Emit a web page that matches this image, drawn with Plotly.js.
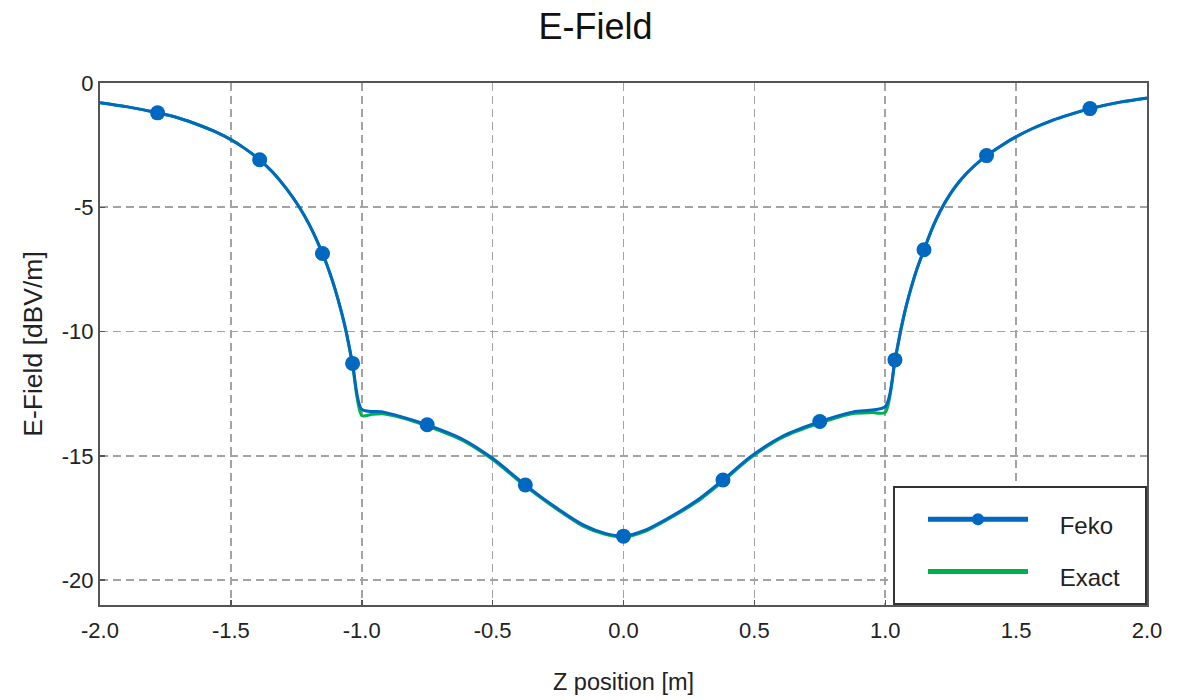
<!DOCTYPE html>
<html>
<head>
<meta charset="utf-8">
<script src="https://cdn.plot.ly/plotly-3.0.1.min.js"></script>
<style>html,body{margin:0;padding:0;background:#fff}#chart{width:1177px;height:700px}</style>
</head>
<body>
<div id="chart"></div>
<script>
// Feko result (dense curve)
const fekoZ = [-2.0,-1.9,-1.78,-1.7,-1.62,-1.56,-1.5,-1.45,-1.39,-1.34,-1.29,-1.24,-1.2,-1.15,-1.12,-1.1,-1.08,-1.06,-1.035,-1.0,
  -0.92,-0.85,-0.75,-0.62,-0.5,-0.375,-0.28,-0.15,-0.07,0.0,0.08,0.165,0.28,0.38,0.483,0.611,0.75,0.878,1.0,
  1.037,1.06,1.08,1.1,1.12,1.148,1.18,1.21,1.25,1.29,1.34,1.387,1.45,1.5,1.56,1.64,1.7,1.782,1.9,2.0];
const fekoE = [-0.79,-0.95,-1.2,-1.41,-1.7,-1.96,-2.28,-2.61,-3.09,-3.59,-4.22,-4.97,-5.71,-6.86,-7.7,-8.36,-9.12,-9.98,-11.28,-13.13,
  -13.23,-13.42,-13.75,-14.3,-15.1,-16.17,-16.92,-17.8,-18.12,-18.23,-18.0,-17.54,-16.8,-15.97,-15.05,-14.19,-13.62,-13.23,-13.02,
  -11.14,-9.89,-8.97,-8.19,-7.51,-6.71,-5.83,-5.15,-4.43,-3.87,-3.33,-2.92,-2.47,-2.16,-1.84,-1.49,-1.28,-1.03,-0.76,-0.6];
// positions along the Feko curve that carry a marker
const fekoMarkerZ = [-1.78,-1.39,-1.15,-1.035,-0.75,-0.375,0.0,0.38,0.75,1.037,1.148,1.387,1.782];

// Exact solution
const exactZ = [-2.0,-1.9,-1.78,-1.7,-1.62,-1.56,-1.5,-1.45,-1.39,-1.34,-1.29,-1.24,-1.2,-1.15,-1.12,-1.1,-1.08,-1.06,-1.035,-1.0,
  -0.96,-0.92,-0.85,-0.75,-0.62,-0.5,-0.375,-0.28,-0.15,-0.07,0.0,0.08,0.165,0.28,0.38,0.483,0.611,0.75,0.878,0.95,1.0,
  1.037,1.06,1.08,1.1,1.12,1.148,1.18,1.21,1.25,1.29,1.34,1.387,1.45,1.5,1.56,1.64,1.7,1.782,1.9,2.0];
const exactE = [-0.79,-0.95,-1.2,-1.41,-1.7,-1.96,-2.28,-2.61,-3.09,-3.59,-4.22,-4.97,-5.71,-6.86,-7.7,-8.36,-9.12,-9.98,-11.36,-13.38,
  -13.33,-13.31,-13.46,-13.8,-14.35,-15.15,-16.22,-16.96,-17.85,-18.16,-18.27,-18.05,-17.58,-16.85,-16.02,-15.1,-14.24,-13.68,-13.3,-13.26,-13.25,
  -11.2,-9.92,-8.99,-8.2,-7.52,-6.72,-5.84,-5.16,-4.44,-3.88,-3.34,-2.93,-2.48,-2.17,-1.85,-1.5,-1.29,-1.04,-0.77,-0.61];

const xTickVals = [-2.0,-1.5,-1.0,-0.5,0.0,0.5,1.0,1.5,2.0];
const xTickText = ['-2.0','-1.5','-1.0','-0.5','0.0','0.5','1.0','1.5','2.0'];
const yTickVals = [-20,-15,-10,-5,0];
const yTickText = ['-20','-15','-10','-5','0'];
const seriesNames = ['Feko', 'Exact'];

const BLUE = '#0068C0', GREEN = '#00B050';
const FONT = 'Liberation Sans, Arial, sans-serif';
const NB = '\u00a0';
const legendLabel = s => '<span style="font-size:24px">' + NB.repeat(4) + s + NB.repeat(3) + '</span>';

const markerSizes = fekoZ.map(z => fekoMarkerZ.includes(z) ? 15 : 0);

const traces = [
  {x: exactZ, y: exactE, name: legendLabel(seriesNames[1]), mode: 'lines', type: 'scatter',
   line: {color: GREEN, width: 3, shape: 'spline', smoothing: 0.7}, legendrank: 2, hoverinfo: 'skip'},
  {x: fekoZ, y: fekoE, name: legendLabel(seriesNames[0]), mode: 'lines+markers', type: 'scatter',
   line: {color: BLUE, width: 3, shape: 'spline', smoothing: 0.7},
   marker: {color: BLUE, size: markerSizes, opacity: 1, line: {width: 0}},
   legendrank: 1, hoverinfo: 'skip'}
];

const axisCommon = {
  showgrid: true, gridcolor: '#a3a3a3', gridwidth: 1.6, griddash: '8px,5px',
  showline: true, mirror: true, linecolor: '#555', linewidth: 2,
  ticks: 'inside', ticklen: 5, tickcolor: '#555', tickwidth: 1.5,
  zeroline: false, tickfont: {family: FONT, size: 22, color: '#222'}
};

const layout = {
  width: 1177, height: 700,
  margin: {l: 100, r: 30, t: 83, b: 95},
  paper_bgcolor: '#fff', plot_bgcolor: '#fff',
  font: {family: FONT, color: '#222'},
  title: {text: 'E-Field', font: {family: FONT, size: 36, color: '#111'},
          x: 0.506, xref: 'container', xanchor: 'center', y: 0.962, yref: 'container', yanchor: 'middle'},
  xaxis: Object.assign({}, axisCommon, {
    range: [-2, 2], tickvals: xTickVals, ticktext: xTickText, ticklabelstandoff: 5,
    title: {text: 'Z position [m]', font: {family: FONT, size: 23.5, color: '#222'}, standoff: 31}
  }),
  yaxis: Object.assign({}, axisCommon, {
    range: [-21, 0], tickvals: yTickVals, ticktext: yTickText,
    title: {text: 'E-Field [dBV/m]', font: {family: FONT, size: 26.5, color: '#222'}, standoff: 12}
  }),
  showlegend: true,
  legend: {x: 1, y: 0, xanchor: 'right', yanchor: 'bottom', xref: 'paper', yref: 'paper',
           bgcolor: '#fff', bordercolor: '#333', borderwidth: 2,
           font: {family: FONT, size: 38, color: '#222'}, indentation: 28,
           traceorder: 'normal', itemsizing: 'constant', itemwidth: 100}
};

Plotly.newPlot('chart', traces, layout, {displayModeBar: false, staticPlot: true});
</script>
</body>
</html>
